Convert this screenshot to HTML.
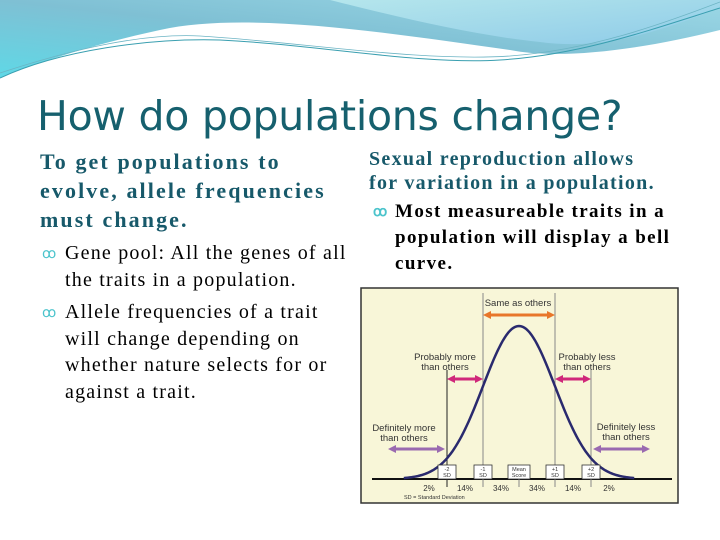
<!DOCTYPE html>
<html><head><meta charset="utf-8">
<style>
body{margin:0;width:720px;height:540px;overflow:hidden;background:#fff;position:relative;font-family:"Liberation Serif",serif}
.t{position:absolute;margin:0;white-space:nowrap}
.h{color:#17596a;font-weight:bold;font-size:22px;line-height:29px;letter-spacing:2px}
.b{color:#000;font-size:20px;line-height:26.5px;letter-spacing:1.2px}
.bul{position:absolute;color:#4cc4cc;font-size:14px;line-height:14px;letter-spacing:0}
</style></head><body>
<svg width="720" height="90" style="position:absolute;left:0;top:0">
<defs>
<linearGradient id="g1" x1="0" y1="1" x2="1" y2="0"><stop offset="0" stop-color="#5fd8e6"/><stop offset="0.5" stop-color="#7fc0d4"/><stop offset="1" stop-color="#9cd8e6"/></linearGradient>
<linearGradient id="g2" x1="0" y1="0" x2="1" y2="1"><stop offset="0" stop-color="#b5e6ec"/><stop offset="1" stop-color="#8ecbe8"/></linearGradient>
</defs>
<path d="M0 0 H720 V30 C640 50 560 60 510 50 C400 35 250 10 160 30 C90 45 30 65 0 78 Z" fill="url(#g1)"/>
<path d="M330 0 H720 V8 C650 35 600 50 540 42 C470 35 390 15 330 0 Z" fill="url(#g2)"/>
<path d="M0 78 C60 50 150 38 220 40 C320 45 420 65 500 60 C580 55 650 30 720 8" fill="none" stroke="#3a9fb0" stroke-width="1"/>
<path d="M0 73 C70 50 140 33 200 36 C300 42 420 62 510 56 C590 50 660 25 720 2" fill="none" stroke="#6cb4c4" stroke-width="0.8"/>
</svg>
<div class="t" style="left:37px;top:92px;font-family:'DejaVu Sans','Liberation Sans',sans-serif;font-size:41px;color:#16606e;letter-spacing:-0.25px">How do populations change?</div>
<div class="t h" style="left:40px;top:147px;letter-spacing:2.1px">To get populations to<br>evolve, allele frequencies<br>must change.</div>
<div class="t b" style="left:65px;top:240px">
<span class="bul" style="left:-23px;top:8px">ꝏ</span>Gene pool: All the genes of all<br>the traits in a population.</div>
<div class="t b" style="left:65px;top:299px">
<span class="bul" style="left:-23px;top:8px">ꝏ</span>Allele frequencies of a trait<br>will change depending on<br>whether nature selects for or<br>against a trait.</div>
<div class="t h" style="left:369px;top:147px;font-size:20px;line-height:24px;letter-spacing:1.3px">Sexual reproduction allows<br>for variation in a population.</div>
<div class="t b" style="left:395px;top:199px;font-weight:bold;font-size:19px;line-height:26px;letter-spacing:1.4px"><span class="bul" style="left:-22px;top:7px">ꝏ</span>Most measureable traits in a<br>population will display a bell<br>curve.</div>
<svg id="chart" width="720" height="540" style="position:absolute;left:0;top:0;font-family:'Liberation Sans',sans-serif"></svg>
<script>
const sdLabels=["-2\nSD","-1\nSD","Mean\nScore","+1\nSD","+2\nSD"];
const sdValues=[-2,-1,0,1,2];
const pctLabels=["2%","14%","34%","34%","14%","2%"];
const pctPos=[-2.5,-1.5,-0.5,0.5,1.5,2.5];
const ns="http://www.w3.org/2000/svg",svg=document.getElementById('chart');
const mean=519,sd=36,base=479,peak=326;
const X=v=>mean+v*sd, Y=d=>base-(base-peak)*d;
function mk(t,a,p){const e=document.createElementNS(ns,t);for(const k in a)e.setAttribute(k,a[k]);(p||svg).appendChild(e);return e;}
const bg=mk('rect',{x:361,y:288,width:317,height:215,fill:'#f8f6d8',stroke:'#333','stroke-width':1.5});

const ax=mk('line',{x1:372,y1:base,x2:672,y2:base,stroke:'#111','stroke-width':2});

sdValues.forEach((v,i)=>{const l=mk('line',{x1:X(v),y1:v==0?base:(Math.abs(v)==1?293:370),x2:X(v),y2:base+8,stroke:v==-2?'#222':'#888','stroke-width':1});
});
let d='';for(let z=-3.2;z<=3.2;z+=0.05){d+=(d?'L':'M')+X(z).toFixed(1)+' '+Y(Math.exp(-z*z/2)).toFixed(1);}
const c=mk('path',{d:d,fill:'none',stroke:'#2a2a6e','stroke-width':2.5});

sdValues.forEach((v,i)=>{if(v==0)return;const g=mk('g',{});
mk('rect',{x:X(v)-9,y:465,width:18,height:14,fill:'#fff',stroke:'#333','stroke-width':0.8},g);
sdLabels[i].split('\n').forEach((s,j)=>{const t=mk('text',{x:X(v),y:471+j*6,'font-size':5.5,'text-anchor':'middle',fill:'#333'},g);t.textContent=s;});});
{const g=mk('g',{});
mk('rect',{x:X(0)-11,y:465,width:22,height:14,fill:'#fff',stroke:'#333','stroke-width':0.8},g);
sdLabels[2].split('\n').forEach((s,j)=>{const t=mk('text',{x:X(0),y:471+j*6,'font-size':5.5,'text-anchor':'middle',fill:'#333'},g);t.textContent=s;});}
pctLabels.forEach((p,i)=>{const t=mk('text',{x:X(pctPos[i]),y:491,'font-size':8,'text-anchor':'middle',fill:'#333'});t.textContent=p;
});
const sdn=mk('text',{x:404,y:499,'font-size':5.5,fill:'#333'});sdn.textContent='SD = Standard Deviation';

function arrow(x1,x2,y,col,name){const g=mk('g',{});
mk('line',{x1:x1+6,y1:y,x2:x2-6,y2:y,stroke:col,'stroke-width':3},g);
mk('polygon',{points:`${x1},${y} ${x1+8},${y-4} ${x1+8},${y+4}`,fill:col},g);
mk('polygon',{points:`${x2},${y} ${x2-8},${y-4} ${x2-8},${y+4}`,fill:col},g);}
arrow(X(-1),X(1),315,'#e8762a','same-arrow');
arrow(X(-2),X(-1),379,'#d0287a','prob-more-arrow');
arrow(X(1),X(2),379,'#d0287a','prob-less-arrow');
arrow(388,X(-2)-2,449,'#9a6ab0','def-more-arrow');
arrow(X(2)+2,650,449,'#9a6ab0','def-less-arrow');
function lab(lines,x,y,name){lines.forEach((s,j)=>{const t=mk('text',{x:x,y:y+j*10,'font-size':9.5,'text-anchor':'middle',fill:'#333'});t.textContent=s;
});}
lab(['Same as others'],518,306,'same-label');
lab(['Probably more','than others'],445,360,'prob-more-label');
lab(['Probably less','than others'],587,360,'prob-less-label');
lab(['Definitely more','than others'],404,431,'def-more-label');
lab(['Definitely less','than others'],626,430,'def-less-label');
</script>
</body></html>
